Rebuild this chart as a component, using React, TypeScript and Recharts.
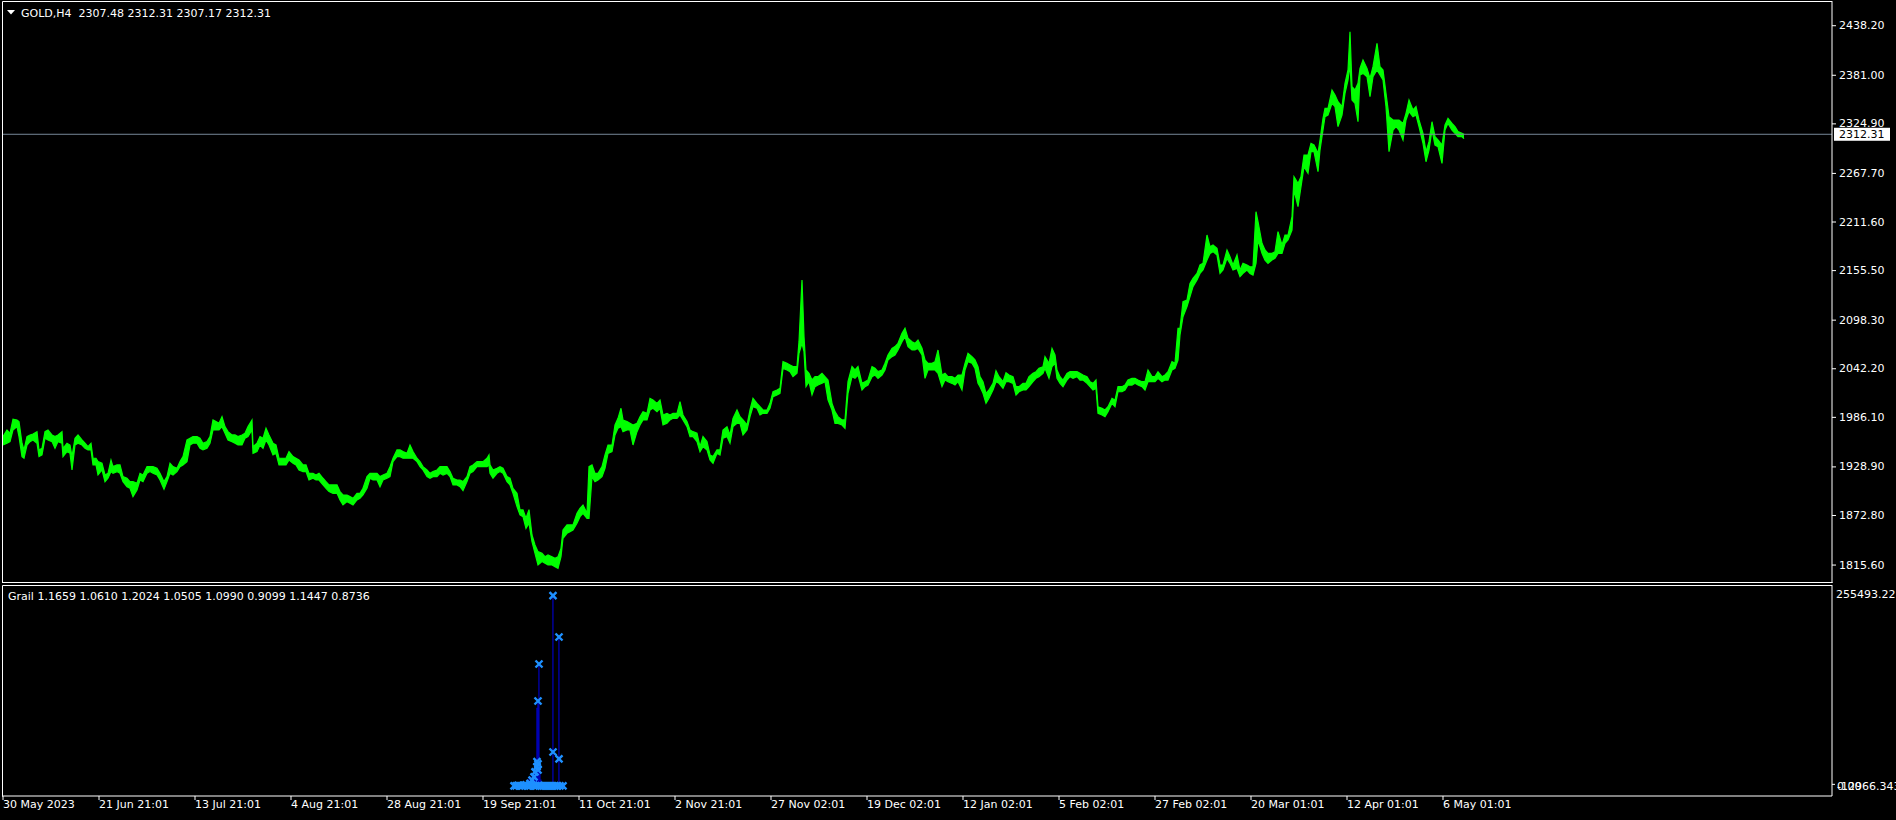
import React from 'react';
import { ComposedChart, Area, XAxis, YAxis, ReferenceLine, Bar, Scatter } from 'recharts';

const symbolLabel = 'GOLD,H4';
const lastOHLC = [2307.48, 2312.31, 2307.17, 2312.31];
const grailName = 'Grail';
const grailValues = [1.1659, 1.061, 1.2024, 1.0505, 1.099, 0.9099, 1.1447, 0.8736];
const currentPrice = 2312.31;

const priceTicks = [2438.2, 2381.0, 2324.9, 2267.7, 2211.6, 2155.5, 2098.3, 2042.2, 1986.1, 1928.9, 1872.8, 1815.6];
const priceDomain = [1794.3, 2465.0];

const dateTickBars = [0, 96, 192, 288, 384, 480, 576, 672, 768, 864, 960, 1056, 1152, 1248, 1344, 1440];
const dateTickLabels = ['30 May 2023', '21 Jun 21:01', '13 Jul 21:01', '4 Aug 21:01', '28 Aug 21:01', '19 Sep 21:01', '11 Oct 21:01', '2 Nov 21:01', '27 Nov 02:01', '19 Dec 02:01', '12 Jan 02:01', '5 Feb 02:01', '27 Feb 02:01', '20 Mar 01:01', '12 Apr 01:01', '6 May 01:01'];

// ---- price bars (bar index, low, high) ----
const seg1Bars = [0,4,7,10,14,16,19,21,24,27, 30,34,36,39,42,45,49,52,55,59, 60,64,67,69,72,75,79,82,85,88, 90,93,95,99,102,105,108,110,114,117, 120,124,127,130,134,137,140,144,147,150, 154,157,161,164,167,170,174,177,180,184, 187,190,194,197,200,204,207,210,213,216, 219,222,225,229,232,235,239,242,245,249, 250,254,257,260,263,266,270,273,276,280, 283,286,290,293,296,300,303,306,310,313, 316,320,323,326,330,334,337,340,344,347, 350,354,357,360,364,367,370,374,377,380, 384,387,390,394,397,400,404,407,410,414, 417,420,424,427,430,434,437,440,444,447, 450,454,457,460,464,467,470,474,477,480, 484,486];
const seg1Lows = [1953.6,1955.6,1957.5,1971.0,1974.8,1963.3,1940.2,1938.3,1953.6,1957.5, 1959.4,1955.6,1940.2,1942.1,1961.4,1959.4,1957.5,1949.8,1957.5,1955.6, 1940.2,1946.0,1944.0,1924.8,1953.6,1955.6,1953.6,1949.8,1947.9,1947.9, 1930.6,1930.6,1919.0,1924.8,1911.3,1915.2,1922.9,1920.9,1922.9,1920.9, 1911.3,1905.5,1903.6,1894.0,1901.7,1913.2,1911.3,1920.9,1922.9,1920.9, 1919.0,1913.2,1902.5,1911.3,1920.9,1919.0,1922.9,1928.6,1930.6,1934.4, 1953.6,1955.6,1955.6,1949.8,1947.9,1949.8,1955.6,1971.0,1971.0,1971.0, 1974.8,1967.1,1959.4,1957.5,1955.6,1953.6,1953.6,1961.4,1963.3,1971.0, 1944.0,1946.0,1953.6,1949.8,1959.4,1953.6,1942.1,1944.0,1930.6,1930.6, 1930.6,1936.3,1932.5,1930.6,1924.8,1922.9,1922.9,1913.2,1915.2,1913.2, 1913.2,1907.5,1903.6,1899.8,1897.8,1897.8,1890.2,1884.4,1888.2,1886.3, 1884.4,1890.2,1892.1,1895.9,1903.6,1915.2,1913.2,1913.2,1905.5,1913.2, 1915.2,1917.1,1934.4,1940.2,1940.2,1938.3,1938.3,1938.3,1938.3,1934.4, 1928.6,1924.8,1917.1,1915.2,1917.1,1917.1,1920.9,1919.0,1920.9,1917.1, 1907.5,1907.5,1905.5,1901.0,1911.3,1920.9,1922.9,1928.6,1928.6,1928.6, 1928.6,1930.6];
const seg1Highs = [1963.3,1971.0,1967.1,1983.3,1982.5,1980.6,1955.6,1947.9,1963.3,1965.2, 1966.3,1969.0,1947.9,1949.8,1969.0,1971.0,1965.2,1963.3,1965.2,1969.0, 1949.8,1955.6,1953.6,1940.2,1961.4,1965.2,1959.4,1955.6,1951.7,1955.6, 1938.3,1938.3,1934.4,1932.5,1919.0,1920.9,1936.3,1928.6,1930.6,1930.6, 1917.1,1915.2,1911.3,1911.3,1909.4,1920.9,1919.0,1928.6,1928.6,1928.6, 1926.7,1920.9,1911.3,1917.1,1932.5,1928.6,1926.7,1934.4,1940.2,1959.4, 1961.4,1963.3,1963.3,1961.4,1955.6,1957.5,1963.3,1982.5,1980.6,1978.7, 1986.4,1974.8,1969.0,1965.2,1965.2,1963.3,1965.2,1967.1,1974.8,1982.5, 1951.7,1955.6,1963.3,1961.4,1972.9,1965.2,1955.6,1953.6,1938.3,1938.3, 1938.3,1946.0,1940.2,1938.3,1936.3,1930.6,1930.6,1920.9,1920.9,1919.0, 1920.9,1915.2,1911.3,1907.5,1907.5,1907.5,1899.8,1895.9,1895.9,1894.0, 1892.1,1897.8,1897.8,1903.6,1917.1,1920.9,1920.9,1920.9,1917.1,1919.0, 1920.9,1928.6,1938.3,1947.9,1947.9,1946.0,1944.0,1953.6,1946.0,1938.3, 1934.4,1928.6,1924.8,1920.9,1922.9,1924.8,1928.6,1928.6,1928.6,1922.9, 1915.2,1913.2,1913.2,1911.3,1917.1,1928.6,1930.6,1934.4,1934.4,1934.4, 1938.3,1942.1];

const seg2Bars = [487,490,494,497,500,504,507,510,514,517, 520,523,526,529,532,535,539,542,545,549, 552,555,558,560,564,567,570,574,577,580, 584,586,589,592,595,599,602,605,609,612, 615,618,620,624,627,630,634,637,640,644, 647,650,654,657,660,664,667,670,674,677, 680,684,687,690,694,697,700,704,707,710, 714,717,720,724,727,730,734,737,740,744, 747,750,754,757,760,764,767,770,774,777, 780,784,787,790,794,796,799,801,803,806, 809,812,815,819,822,825,829,832,835,839, 842,845,849,852,855,859,862,865,869,872, 875,879,882,885,889,892,895,899,902,905, 909,912,915,919,922,925,929,932,935,939, 942,945,949,952,955,959,962,965,969,972, 975];
const seg2Lows = [1920.9,1915.2,1920.9,1922.9,1920.9,1911.3,1907.5,1897.8,1882.5,1872.9, 1870.9,1857.4,1863.2,1842.0,1828.6,1815.1,1819.0,1817.0,1815.1,1815.1, 1813.2,1811.3,1824.7,1845.9,1851.7,1853.6,1855.5,1863.2,1870.9,1874.8, 1869.0,1869.0,1917.1,1911.3,1913.2,1917.1,1926.7,1944.0,1945.9,1965.2, 1972.9,1974.8,1969.0,1970.9,1970.9,1953.6,1969.0,1976.7,1982.5,1982.5, 1994.0,1996.0,1992.1,1996.0,1976.7,1978.6,1982.5,1984.4,1984.4,1988.3, 1982.5,1974.8,1963.3,1963.3,1957.5,1945.9,1951.7,1947.9,1936.3,1932.5, 1944.0,1942.1,1961.4,1963.3,1955.6,1974.8,1978.6,1978.6,1965.2,1970.9, 1986.3,1997.9,1996.0,1988.3,1990.2,1990.2,1996.0,2009.4,2011.4,2013.3, 2042.1,2040.2,2038.3,2032.5,2036.4,2059.5,2071.0,2061.4,2021.0,2026.7, 2011.4,2021.0,2022.9,2024.8,2026.7,2005.6,1994.0,1978.6,1978.6,1976.7, 1972.9,2013.3,2032.5,2030.6,2034.4,2017.1,2021.0,2022.9,2032.5,2034.4, 2030.6,2034.4,2040.2,2051.8,2055.6,2057.5,2063.3,2072.9,2078.7,2067.2, 2063.3,2063.3,2065.2,2057.5,2030.6,2040.2,2040.2,2040.2,2036.4,2021.0, 2028.7,2026.7,2024.8,2022.9,2026.7,2017.1,2040.2,2049.8,2047.9,2042.1, 2024.8];
const seg2Highs = [1930.6,1924.8,1926.7,1928.6,1926.7,1917.1,1915.2,1903.6,1897.8,1878.6, 1878.6,1869.0,1879.0,1849.7,1838.2,1830.5,1828.6,1824.7,1826.7,1824.7, 1822.8,1824.7,1834.3,1855.5,1861.3,1861.3,1861.3,1874.8,1880.5,1884.4, 1874.8,1928.6,1930.6,1920.9,1920.9,1928.6,1942.1,1953.6,1953.6,1976.7, 1984.4,1996.0,1982.5,1980.6,1978.6,1976.7,1978.6,1986.3,1992.1,1990.2, 2007.5,2005.6,2001.7,2005.6,1988.3,1990.2,1988.3,1990.2,1990.2,2003.6, 1988.3,1980.6,1970.9,1969.0,1967.1,1951.7,1963.3,1957.5,1942.1,1940.2, 1947.9,1947.9,1970.9,1974.8,1965.2,1984.4,1994.0,1986.3,1982.5,1976.7, 1994.0,2007.5,2001.7,1997.9,1994.0,1994.0,2001.7,2015.2,2017.1,2019.0, 2049.8,2047.9,2046.0,2044.1,2044.1,2072.9,2144.1,2078.7,2040.2,2036.4, 2028.7,2032.5,2032.5,2036.4,2032.5,2028.7,2001.7,1992.1,1986.3,1982.5, 1982.5,2026.7,2044.1,2040.2,2044.1,2024.8,2026.7,2028.7,2044.1,2042.1, 2038.3,2040.2,2047.9,2057.5,2065.2,2067.2,2071.0,2082.5,2088.3,2076.8, 2072.9,2071.0,2074.8,2065.2,2051.8,2047.9,2047.9,2049.8,2063.3,2034.4, 2036.4,2032.5,2032.5,2030.6,2034.4,2034.4,2047.9,2059.5,2055.6,2051.8, 2044.1];

const seg3Bars = [977,980,983,986,990,993,996,1000,1003,1006, 1010,1013,1016,1020,1023,1026,1030,1033,1036,1040, 1042,1046,1049,1052,1054,1057,1060,1064,1067,1070, 1074,1077,1080,1084,1087,1090,1093,1095,1099,1102, 1105,1109,1112,1115,1119,1122,1125,1129,1132,1135, 1139,1142,1145,1149,1152,1155,1159,1162,1165,1169, 1172,1175,1177,1180,1184,1187,1190,1194,1197,1200, 1204,1207,1210,1214,1217,1220,1224,1227,1230,1234, 1237,1240,1244,1247,1250,1253,1255,1259,1262,1265, 1269,1272,1275,1279,1282,1285,1289,1291,1295,1298, 1301,1305,1308,1311,1315,1317,1320,1322,1325,1329, 1332,1335,1339,1342,1345,1347,1349,1352,1355,1357, 1360,1364,1367,1370,1374,1377,1380,1383,1386,1390, 1393,1396,1400,1403,1406,1410,1413,1416,1420,1423, 1426,1429,1432,1435,1439,1442,1445,1449,1452,1455, 1459,1461];
const seg3Lows = [2020.9,2013.2,2001.7,2007.5,2017.1,2026.7,2024.8,2019.0,2026.7,2026.7, 2024.8,2011.3,2015.1,2017.1,2017.1,2020.9,2026.7,2030.6,2032.5,2036.3, 2042.1,2030.6,2044.0,2047.9,2030.6,2024.8,2020.9,2028.6,2032.5,2030.6, 2032.5,2028.6,2028.6,2024.8,2020.9,2017.1,2019.0,1990.2,1988.3,1986.3, 1992.1,2001.7,1997.8,2015.1,2015.1,2017.1,2022.8,2022.8,2024.8,2022.8, 2020.9,2017.1,2026.7,2026.7,2026.7,2030.6,2026.7,2028.6,2028.6,2040.2, 2042.1,2051.7,2080.6,2101.7,2113.3,2124.8,2136.4,2144.1,2151.7,2155.6, 2167.1,2174.8,2176.8,2172.9,2151.7,2155.6,2169.1,2163.3,2155.6,2157.5, 2147.9,2151.7,2155.6,2151.7,2149.8,2163.3,2190.2,2174.8,2167.1,2163.3, 2167.1,2169.1,2174.8,2174.8,2186.4,2190.2,2201.8,2247.9,2228.7,2251.8, 2274.9,2267.2,2292.2,2292.2,2269.1,2294.1,2317.2,2332.6,2334.5,2348.0, 2344.2,2321.1,2334.5,2359.6,2374.9,2392.3,2351.9,2348.0,2326.8,2380.7, 2382.6,2378.8,2355.7,2378.8,2386.5,2380.7,2374.9,2344.2,2292.2,2317.2, 2321.1,2317.2,2305.7,2328.8,2338.4,2332.6,2334.5,2321.1,2301.8,2280.6, 2294.1,2317.2,2299.9,2298.0,2278.7,2317.2,2324.9,2317.2,2313.4,2309.5, 2309.5,2307.2];
const seg3Highs = [2032.5,2026.7,2013.2,2017.1,2024.8,2039.4,2032.5,2026.7,2037.1,2034.4, 2032.5,2020.9,2020.9,2024.8,2024.8,2032.5,2036.3,2038.2,2042.1,2044.0, 2055.6,2047.9,2065.2,2057.5,2040.2,2032.5,2028.6,2036.3,2038.2,2038.2, 2038.2,2036.3,2034.4,2032.5,2026.7,2024.8,2028.6,1997.8,1995.9,1994.0, 1997.8,2007.5,2005.5,2020.9,2020.9,2022.8,2028.6,2030.6,2030.6,2028.6, 2026.7,2026.7,2040.2,2032.5,2032.5,2038.2,2032.5,2034.4,2038.2,2049.8, 2047.9,2088.3,2088.3,2119.0,2121.0,2140.2,2146.0,2151.7,2161.4,2163.3, 2196.0,2182.5,2184.5,2180.6,2161.4,2161.4,2178.7,2171.0,2161.4,2173.0, 2155.6,2163.3,2161.4,2159.4,2159.4,2222.9,2211.4,2186.4,2178.7,2174.8, 2174.8,2176.8,2199.9,2184.5,2196.0,2196.0,2217.2,2263.3,2255.6,2263.3, 2288.4,2288.4,2301.8,2299.9,2290.3,2305.7,2330.7,2342.2,2342.2,2363.4, 2357.6,2349.9,2344.2,2371.1,2386.5,2430.7,2367.2,2363.4,2371.1,2388.4, 2398.0,2388.4,2376.9,2390.3,2417.3,2390.3,2386.5,2359.6,2332.6,2328.8, 2328.8,2328.8,2324.9,2336.5,2351.9,2340.3,2344.2,2328.8,2313.4,2292.2, 2303.8,2326.8,2309.5,2305.7,2299.9,2323.0,2330.7,2324.9,2321.1,2315.3, 2313.4,2312.3];

// ---- Grail indicator ----
const grailMax = 255493.22;
const grailMin = -12966.343;
const grailHistBars = [512, 515, 518, 521, 524, 526, 528, 530, 531, 532, 533, 534, 535, 536, 537, 538, 540, 550, 556];
const grailHistValues = [1500, 2500, 2000, 4000, 6000, 9000, 12000, 16000, 20000, 24000, 30000, 100000, 108500, 155800, 25000, 8000, 3000, 243100, 190300];
const grailMarkBars = [550, 556, 536, 535, 550, 556, 534, 535, 534, 535, 532, 531, 529, 527, 511, 513, 515, 517, 519, 521, 523, 525, 527, 529, 531, 533, 536, 538, 540, 542, 544, 546, 548, 550, 552, 554, 557, 560];
const grailMarkValues = [243100, 190300, 155800, 108500, 43300, 34400, 30900, 28000, 24500, 20300, 18000, 11600, 7400, 3200, 0, 0, 800, 0, 0, 600, 1200, 0, 0, 600, 0, 0, 500, 0, 0, 0, 0, 0, 0, 0, 0, 0, 0, 0];

const FONT = '"DejaVu Sans", Verdana, sans-serif';

const priceData = [
  ...seg1Bars.map((b, k) => ({ bar: b, range: [seg1Lows[k], seg1Highs[k]] })),
  ...seg2Bars.map((b, k) => ({ bar: b, range: [seg2Lows[k], seg2Highs[k]] })),
  ...seg3Bars.map((b, k) => ({ bar: b, range: [seg3Lows[k], seg3Highs[k]] })),
];
const histData = grailHistBars.map((b, k) => ({ bar: b, hist: grailHistValues[k] }));
const markData = grailMarkBars.map((b, k) => ({ bar: b, mark: grailMarkValues[k] }));

const PriceTick = (props: any) => {
  const { x, y, payload } = props;
  const v = payload.value as number;
  if (v === currentPrice) {
    return (
      <g>
        <rect x={x - 5} y={y - 6.5} width={56} height={13} fill="#ffffff" />
        <text x={x} y={y + 4} fill="#000000" fontSize={11} fontFamily={FONT}>{v.toFixed(2)}</text>
      </g>
    );
  }
  return (
    <g>
      <line x1={x - 7} x2={x - 3} y1={y + 0.5} y2={y + 0.5} stroke="#ffffff" />
      <text x={x} y={y + 4} fill="#ffffff" fontSize={11} fontFamily={FONT}>{v.toFixed(2)}</text>
    </g>
  );
};

const GrailTick = (props: any) => {
  const { x, y, payload } = props;
  const v = payload.value as number;
  if (v === grailMax) {
    return <text x={x - 3} y={y + 12} fill="#ffffff" fontSize={11} fontFamily={FONT}>{v.toFixed(2)}</text>;
  }
  return (
    <g>
      <line x1={x - 7} x2={x - 4} y1={y - 1.5} y2={y - 1.5} stroke="#ffffff" />
      <text x={x - 2} y={y + 4} fill="#ffffff" fontSize={11} fontFamily={FONT}>{v.toFixed(2)}</text>
      <text x={x - 2} y={y + 4} fill="#ffffff" fontSize={11} fontFamily={FONT}>{grailMin.toFixed(3)}</text>
    </g>
  );
};

const DateTick = (props: any) => {
  const { x, y, payload } = props;
  const idx = dateTickBars.indexOf(payload.value);
  return <text x={x} y={y + 8} fill="#ffffff" fontSize={11} fontFamily={FONT}>{dateTickLabels[idx]}</text>;
};

const CrossShape = (props: any) => {
  const { cx, cy } = props;
  if (cx == null || cy == null) return null;
  return (
    <path d={`M${cx - 3.5},${cy - 3.5}L${cx + 3.5},${cy + 3.5}M${cx + 3.5},${cy - 3.5}L${cx - 3.5},${cy + 3.5}`} stroke="#1e90ff" strokeWidth={2.4} fill="none" />
  );
};

export default function App() {
  const header = `${symbolLabel}  ${lastOHLC.map((v) => v.toFixed(2)).join(' ')}`;
  const grailText = `${grailName} ${grailValues.map((v) => v.toFixed(4)).join(' ')}`;
  return (
    <div style={{ position: 'absolute', left: 0, top: 0, width: 1896, height: 820, background: '#000000', overflow: 'hidden' }}>
      <div style={{ position: 'absolute', left: 0, top: 0 }}>
        <ComposedChart width={1896} height={585} data={priceData} margin={{ top: 2, right: 0, left: 2, bottom: 2 }}>
          <XAxis type="number" dataKey="bar" domain={[-1, 1829]} allowDataOverflow hide />
          <YAxis
            orientation="right"
            width={64}
            domain={priceDomain}
            allowDataOverflow
            ticks={[...priceTicks, currentPrice]}
            interval={0}
            tickLine={false}
            tickSize={4}
            tickMargin={3}
            axisLine={{ stroke: '#ffffff' }}
            tick={<PriceTick />}
          />
          <Area type="linear" dataKey="range" stroke="#00ff00" strokeWidth={1.2} fill="#00ff00" fillOpacity={1} isAnimationActive={false} dot={false} activeDot={false} />
          <ReferenceLine y={currentPrice} stroke="#778899" strokeWidth={1} />
        </ComposedChart>
      </div>
      <div style={{ position: 'absolute', left: 0, top: 586 }}>
        <ComposedChart width={1896} height={234} data={histData} margin={{ top: 0, right: 0, left: 2, bottom: 0 }}>
          <XAxis
            type="number"
            dataKey="bar"
            domain={[-1, 1829]}
            allowDataOverflow
            ticks={dateTickBars}
            interval={0}
            height={24}
            tickSize={4}
            tickMargin={0}
            tickLine={{ stroke: '#ffffff' }}
            axisLine={{ stroke: '#ffffff' }}
            tick={<DateTick />}
          />
          <YAxis
            orientation="right"
            width={64}
            domain={[grailMin, grailMax]}
            allowDataOverflow
            ticks={[grailMax, 0]}
            interval={0}
            tickLine={false}
            tickSize={4}
            tickMargin={3}
            axisLine={{ stroke: '#ffffff' }}
            tick={<GrailTick />}
          />
          <Bar dataKey="hist" fill="#0000ff" barSize={1} isAnimationActive={false} />
          <Scatter data={markData} dataKey="mark" shape={<CrossShape />} isAnimationActive={false} />
        </ComposedChart>
      </div>
      <svg width={1896} height={820} style={{ position: 'absolute', left: 0, top: 0, pointerEvents: 'none' }}>
        <line x1={2.5} y1={1.5} x2={1832.5} y2={1.5} stroke="#ffffff" />
        <line x1={2.5} y1={1.5} x2={2.5} y2={583} stroke="#ffffff" />
        <line x1={2.5} y1={582.5} x2={1832.5} y2={582.5} stroke="#ffffff" />
        <line x1={2.5} y1={585.5} x2={1832.5} y2={585.5} stroke="#ffffff" />
        <line x1={2.5} y1={585.5} x2={2.5} y2={796.5} stroke="#ffffff" />
        <polygon points="7,10 15,10 11,14.5" fill="#ffffff" />
        <text x={21} y={17} fill="#ffffff" fontSize={11} fontFamily={FONT} style={{ whiteSpace: 'pre' }}>{header}</text>
        <text x={8} y={600} fill="#ffffff" fontSize={11} fontFamily={FONT} style={{ whiteSpace: 'pre' }}>{grailText}</text>
      </svg>
    </div>
  );
}
